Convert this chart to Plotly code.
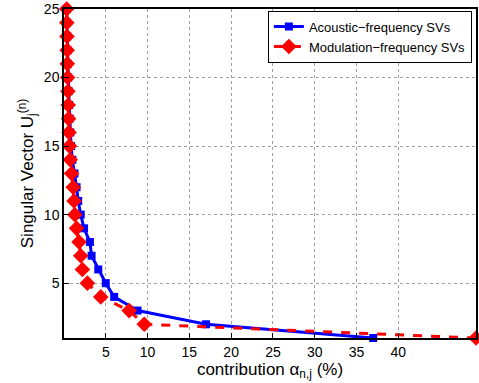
import plotly.graph_objects as go

sv_index = list(range(1, 26))
acoustic = [37.0, 17.0, 8.8, 6.0, 5.0, 4.1, 3.3, 3.1, 2.4, 2.0, 1.7, 1.5, 1.25, 1.0, 0.85,
            0.75, 0.68, 0.62, 0.56, 0.5, 0.46, 0.42, 0.38, 0.35, 0.32]
modulation = [49.3, 9.6, 7.8, 4.4, 2.8, 2.2, 2.0, 1.8, 1.5, 1.3, 1.2, 1.1, 0.9, 0.75, 0.65,
              0.6, 0.55, 0.5, 0.47, 0.43, 0.4, 0.38, 0.36, 0.34, 0.32]
x_ticks = [5, 10, 15, 20, 25, 30, 35, 40]
y_ticks = [5, 10, 15, 20, 25]

fig = go.Figure()
fig.add_trace(go.Scatter(
    x=acoustic, y=sv_index, mode="lines+markers", name="Acoustic\u2212frequency SVs",
    line=dict(color="#0000ff", width=3), marker=dict(symbol="square", size=8, color="#0000ff"),
    cliponaxis=False))
fig.add_trace(go.Scatter(
    x=modulation, y=sv_index, mode="lines+markers", name="Modulation\u2212frequency SVs",
    line=dict(color="#ff0000", width=3, dash="dash"), marker=dict(symbol="diamond", size=12, color="#ff0000"),
    cliponaxis=False))

axis_common = dict(showline=True, linecolor="black", linewidth=1.5, mirror=True,
                   ticks="inside", ticklen=5, tickcolor="black",
                   showgrid=True, gridcolor="#a0a0a0", griddash="dot", gridwidth=1,
                   zeroline=False, tickfont=dict(size=14, color="black"))

fig.update_layout(
    width=479, height=383,
    margin=dict(l=64, r=1, t=9, b=45),
    paper_bgcolor="white", plot_bgcolor="white",
    font=dict(family="Liberation Sans, Arial, sans-serif", color="black"),
    xaxis=dict(range=[0, 49.3], tickvals=x_ticks,
               title=dict(text="contribution \u03b1<sub>n,j</sub> (%)", font=dict(size=17), standoff=0),
               **axis_common),
    yaxis=dict(range=[1, 25], tickvals=y_ticks,
               title=dict(text="Singular Vector U<sub>j</sub><sup>(n)</sup>", font=dict(size=17), standoff=6),
               **axis_common),
    legend=dict(x=0.99, y=0.995, xanchor="right", yanchor="top",
                bgcolor="white", bordercolor="black", borderwidth=1,
                font=dict(size=13), tracegroupgap=0, itemwidth=30),
    showlegend=True,
)

fig.write_html("out.html")
